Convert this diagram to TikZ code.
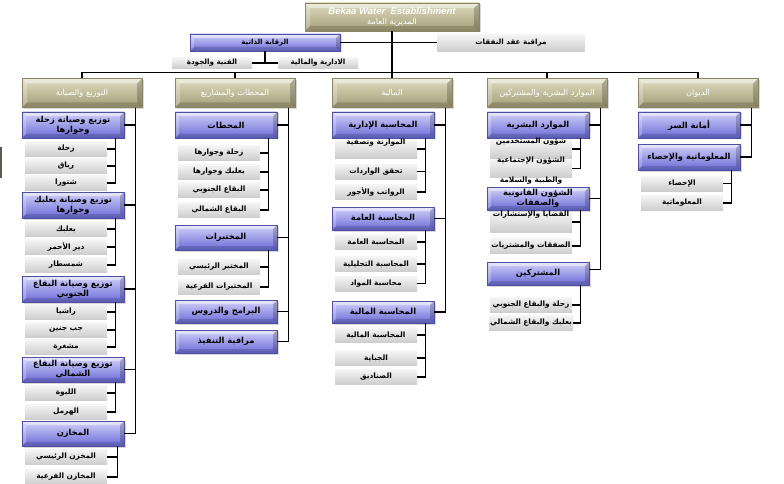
\documentclass[tikz,border=0pt]{standalone}
\usepackage{fontspec}
\usetikzlibrary{shadows,calc}
\TeXXeTstate=1
\newfontfamily\arabicfont[Script=Arabic]{DejaVu Sans}
\newfontfamily\latinfont{Liberation Sans}
\newcommand\artxt[1]{{\arabicfont\beginR#1\endR}}

\definecolor{khakiT}{HTML}{DEDBC0}
\definecolor{khakiB}{HTML}{A39D76}
\definecolor{blueT}{HTML}{D2D2FA}
\definecolor{blueB}{HTML}{6A6AD6}
\definecolor{grayT}{HTML}{F5F5F5}
\definecolor{grayB}{HTML}{CDCDCD}
\definecolor{sliver}{HTML}{5A5A4E}

\tikzset{
  bevel/.style={path picture={
    \fill[white,opacity=.45] (path picture bounding box.north west) -- (path picture bounding box.north east)
      -- ([shift={(-#1,-#1)}]path picture bounding box.north east) -- ([shift={(#1,-#1)}]path picture bounding box.north west) -- cycle;
    \fill[white,opacity=.25] (path picture bounding box.north west) -- (path picture bounding box.south west)
      -- ([shift={(#1,#1)}]path picture bounding box.south west) -- ([shift={(#1,-#1)}]path picture bounding box.north west) -- cycle;
    \fill[black,opacity=.15] (path picture bounding box.south west) -- (path picture bounding box.south east)
      -- ([shift={(-#1,#1)}]path picture bounding box.south east) -- ([shift={(#1,#1)}]path picture bounding box.south west) -- cycle;
    \fill[black,opacity=.2] (path picture bounding box.north east) -- (path picture bounding box.south east)
      -- ([shift={(-#1,#1)}]path picture bounding box.south east) -- ([shift={(-#1,-#1)}]path picture bounding box.north east) -- cycle;
  }},
  shad/.style={drop shadow={shadow xshift=1.5pt,shadow yshift=-1.5pt,opacity=.3}},
  hdr/.style={rectangle, inner sep=1pt, minimum width=120pt, minimum height=29pt,
    top color=khakiT, bottom color=khakiB, draw=khakiB!85!black, line width=.3pt,
    shad, bevel=5pt, text=white, align=center, font=\fontsize{8.2}{10}\selectfont},
  blu/.style={rectangle, inner sep=1pt, minimum width=102pt, minimum height=26pt,
    top color=blueT, bottom color=blueB, draw=blueB!75!black, line width=.3pt,
    shad, bevel=4pt, align=center, font=\bfseries\fontsize{8.3}{10}\selectfont},
  gry/.style={rectangle, inner sep=1pt, minimum width=82pt, minimum height=15pt,
    top color=grayT, bottom color=grayB, align=center,
    font=\bfseries\fontsize{7.4}{9}\selectfont},
  txt/.style={inner sep=0pt, font=\bfseries\fontsize{7.4}{9}\selectfont},
  ln/.style={line width=1.3pt, black},
}

\begin{document}
\begin{tikzpicture}[x=1pt,y=-1pt]
\fill[white] (0,0) rectangle (784,484);
\useasboundingbox (0,0) rectangle (784,484);

% cut-off panel at the left border
\fill[sliver] (0,147) rectangle (1.8,178);

% ---- head office and self-audit ----
\node[hdr, minimum width=174pt, minimum height=28pt, font=\fontsize{8.2}{10.5}\selectfont] (top) at (392,17)
  {{\latinfont\bfseries\itshape\fontsize{9.5}{10.5}\selectfont Bekaa Water\ \ Establishment}\\\artxt{المديرية العامة}};
\node[blu, minimum width=150pt, minimum height=17pt, font=\bfseries\fontsize{7}{8}\selectfont] (raq) at (265,42.5) {\artxt{الرقابة الذاتية}};
\node[gry, minimum width=147pt, minimum height=17pt, font=\bfseries\fontsize{7.2}{8}\selectfont] (naf) at (511,43) {\artxt{مراقبة عقد النفقات}};
\node[gry, minimum width=80pt, minimum height=11pt, font=\bfseries\fontsize{7.2}{8}\selectfont] (fan) at (212,63) {\artxt{الفنية والجودة}};
\node[gry, minimum width=80pt, minimum height=11pt, font=\bfseries\fontsize{7.2}{8}\selectfont] (ida) at (318,63) {\artxt{الادارية والمالية}};

% ---- directorates ----
\node[hdr] (h1) at (82,93)  {\artxt{التوزيع والصيانة}};
\node[hdr] (h2) at (235,93) {\artxt{المحطات والمشاريع}};
\node[hdr] (h3) at (392,93) {\artxt{المالية}};
\node[hdr] (h4) at (547,93) {\artxt{الموارد البشرية والمشتركين}};
\node[hdr] (h5) at (698,93) {\artxt{الديوان}};

% ---- distribution and maintenance ----
\node[blu] (b11) at (73,125) {\artxt{توزيع وصيانة زحلة}\\\artxt{وجوارها}};
\node[gry] (g111) at (66,149) {\artxt{زحلة}};
\node[gry] (g112) at (66,166) {\artxt{رياق}};
\node[gry] (g113) at (66,183) {\artxt{شتورا}};
\node[blu] (b12) at (73,205) {\artxt{توزيع وصيانة بعلبك}\\\artxt{وجوارها}};
\node[gry] (g121) at (66,229) {\artxt{بعلبك}};
\node[gry] (g122) at (66,247) {\artxt{دير الأحمر}};
\node[gry] (g123) at (66,265) {\artxt{شمسطار}};
\node[blu] (b13) at (73,289) {\artxt{توزيع وصيانة البقاع}\\\artxt{الجنوبي}};
\node[gry] (g131) at (66,312) {\artxt{راشيا}};
\node[gry] (g132) at (66,330) {\artxt{جب جنين}};
\node[gry] (g133) at (66,347) {\artxt{مشغرة}};
\node[blu, minimum height=25pt] (b14) at (73,369.5) {\artxt{توزيع وصيانة البقاع}\\\artxt{الشمالي}};
\node[gry] (g141) at (66,393) {\artxt{اللبوة}};
\node[gry] (g142) at (66,412) {\artxt{الهرمل}};
\node[blu, minimum height=25pt] (b15) at (73,433.5) {\artxt{المخازن}};
\node[gry] (g151) at (66,457) {\artxt{المخزن الرئيسي}};
\node[gry] (g152) at (66,477) {\artxt{المخازن الفرعية}};

% ---- stations and projects ----
\node[blu] (b21) at (226,125) {\artxt{المحطات}};
\node[gry] (g211) at (219,153) {\artxt{زحلة وجوارها}};
\node[gry] (g212) at (219,172) {\artxt{بعلبك وجوارها}};
\node[gry] (g213) at (219,190) {\artxt{البقاع الجنوبي}};
\node[gry] (g214) at (219,210) {\artxt{البقاع الشمالي}};
\node[blu, minimum height=25pt] (b22) at (226,237.5) {\artxt{المختبرات}};
\node[gry] (g221) at (219,267) {\artxt{المختبر الرئيسي}};
\node[gry] (g222) at (219,287) {\artxt{المختبرات الفرعية}};
\node[blu, minimum height=23pt] (b23) at (226,311.5) {\artxt{البرامج والدروس}};
\node[blu, minimum height=23pt] (b24) at (226,341.5) {\artxt{مراقبة التنفيذ}};

% ---- finance ----
\node[blu] (b31) at (383,125) {\artxt{المحاسبة الإدارية}};
\node[gry, minimum height=18pt] (g311) at (376,149) {};
\node[txt] (t311) at (376,143) {\artxt{الموازنة وتصفية}};
\node[gry] (g312) at (376,171.5) {\artxt{تحقق الواردات}};
\node[gry] (g313) at (376,192) {\artxt{الرواتب والأجور}};
\node[blu, minimum height=23pt] (b32) at (383,218.5) {\artxt{المحاسبة العامة}};
\node[gry] (g321) at (376,242) {\artxt{المحاسبة العامة}};
\node[gry] (g322) at (376,264) {\artxt{المحاسبة التحليلية}};
\node[gry] (g323) at (376,283.5) {\artxt{محاسبة المواد}};
\node[blu, minimum height=22pt] (b33) at (383,312) {\artxt{المحاسبة المالية}};
\node[gry] (g331) at (376,335) {\artxt{المحاسبة المالية}};
\node[gry] (g332) at (376,358) {\artxt{الجباية}};
\node[gry] (g333) at (376,377) {\artxt{الصناديق}};

% ---- human resources and subscribers ----
\node[blu] (b41) at (538,125) {\artxt{الموارد البشرية}};
\node[gry, minimum height=18pt] (g411) at (531,149) {};
\node[txt] (t411) at (531,142) {\artxt{شؤون المستخدمين}};
\node[gry, minimum height=18pt] (g412) at (531,168.5) {};
\node[txt] (t412) at (531,161) {\artxt{الشؤون الإجتماعية}};
\node[blu, minimum height=23pt] (b42) at (538,198.5) {\artxt{الشؤون القانونية}\\\artxt{والصفقات}};
\node[txt] (t413) at (531,181) {\artxt{والطبية والسلامة}};
\node[gry, minimum height=20pt] (g421) at (531,222) {};
\node[txt] (t421) at (531,215) {\artxt{القضايا والإستشارات}};
\node[gry] (g422) at (531,246) {\artxt{الصفقات والمشتريات}};
\node[blu, minimum height=23pt] (b43) at (538,273.5) {\artxt{المشتركين}};
\node[gry] (g431) at (531,305) {\artxt{زحلة والبقاع الجنوبي}};
\node[gry] (g432) at (531,323) {\artxt{بعلبك والبقاع الشمالي}};

% ---- secretariat ----
\node[blu] (b51) at (689,125) {\artxt{أمانة السر}};
\node[blu] (b52) at (689,157) {\artxt{المعلوماتية والإحصاء}};
\node[gry] (g521) at (682,183.5) {\artxt{الإحصاء}};
\node[gry] (g522) at (682,203) {\artxt{المعلوماتية}};

% ---- connectors: top level ----
\draw[ln] (top.south) -- (h3.north);
\draw[ln] (h1.north) -- ++(0,-6) -| (h5.north);
\draw[ln] (h2.north) -- ++(0,-6);
\draw[ln] (h4.north) -- ++(0,-6);
\draw[ln] (raq.east) -- (raq.east -| naf.west);
\draw[ln] (fan.east) -- (ida.west);
\draw[ln] (raq.south) -- (raq.south |- fan.east);

% ---- connectors: directorate spines ----
\foreach \b in {b11,b12,b13,b14,b15} \draw[ln] ([xshift=-7pt]h1.south east) |- (\b.east);
\foreach \b in {b21,b22,b23,b24} \draw[ln] ([xshift=-7pt]h2.south east) |- (\b.east);
\foreach \b in {b31,b32,b33} \draw[ln] ([xshift=-7pt]h3.south east) |- (\b.east);
\foreach \b in {b41,b42} \draw[ln] ([xshift=-7pt]h4.south east) |- (\b.east);
\draw[ln] ([xshift=-7pt]h4.south east) |- ([yshift=4pt]b43.east);
\foreach \b in {b51,b52} \draw[ln] ([xshift=-7pt]h5.south east) |- (\b.east);

% ---- connectors: department spines ----
\foreach \g in {g111,g112,g113} \draw[ln] ([xshift=-9pt]b11.south east) |- (\g.east);
\foreach \g in {g121,g122,g123} \draw[ln] ([xshift=-9pt]b12.south east) |- (\g.east);
\foreach \g in {g131,g132,g133} \draw[ln] ([xshift=-9pt]b13.south east) |- (\g.east);
\foreach \g in {g141,g142} \draw[ln] ([xshift=-9pt]b14.south east) |- (\g.east);
\foreach \g in {g151,g152} \draw[ln] ([xshift=-7pt]b15.south east) |- (\g.east);
\foreach \g in {g211,g212,g213,g214} \draw[ln] ([xshift=-9pt]b21.south east) |- (\g.east);
\foreach \g in {g221,g222} \draw[ln] ([xshift=-9pt]b22.south east) |- (\g.east);
\foreach \g in {g311,g312,g313} \draw[ln] ([xshift=-9pt]b31.south east) |- (\g.east);
\foreach \g in {g321,g322,g323} \draw[ln] ([xshift=-9pt]b32.south east) |- (\g.east);
\foreach \g in {g331,g332,g333} \draw[ln] ([xshift=-9pt]b33.south east) |- (\g.east);
\foreach \g in {g411,g412} \draw[ln] ([xshift=-9pt]b41.south east) |- (\g.east);
\foreach \g in {g421,g422} \draw[ln] ([xshift=-9pt]b42.south east) |- (\g.east);
\foreach \g in {g431,g432} \draw[ln] ([xshift=-9pt]b43.south east) |- (\g.east);
\foreach \g in {g521,g522} \draw[ln] ([xshift=-9pt]b52.south east) |- (\g.east);
\end{tikzpicture}
\end{document}
